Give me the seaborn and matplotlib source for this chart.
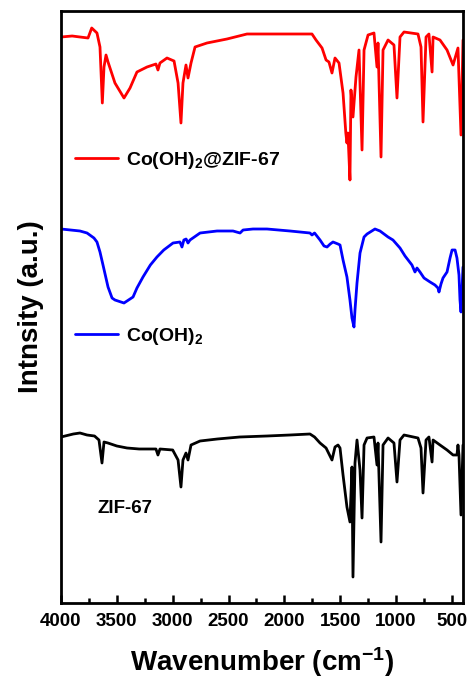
import matplotlib
matplotlib.use("Agg")
import matplotlib.pyplot as plt
import seaborn as sns
import pandas as pd
from matplotlib.ticker import MultipleLocator

# FTIR spectra, stacked (arbitrary intensity units)
wn_composite = [4000, 3900, 3830, 3758, 3725, 3678, 3651, 3630, 3615, 3597, 3579, 3517,
                3436, 3382, 3320, 3230, 3150, 3132, 3114, 3051, 2988, 2952, 2926, 2908,
                2881, 2863, 2836, 2800, 2693, 2514, 2335, 2066, 1753, 1717, 1663, 1627,
                1601, 1574, 1547, 1511, 1475, 1450, 1440, 1431, 1413, 1404, 1386, 1359,
                1332, 1305, 1287, 1251, 1198, 1171, 1162, 1135, 1117, 1072, 1019, 992,
                965, 929, 804, 777, 759, 732, 706, 678, 669, 607, 544, 490, 446, 419, 401]
int_composite = [566, 567, 566, 565, 575, 570, 556, 500, 536, 548, 541, 520,
                 505, 515, 531, 536, 539, 533, 540, 545, 542, 520, 480, 520,
                 538, 525, 540, 556, 560, 564, 569, 569, 569, 563, 555, 543,
                 541, 530, 545, 540, 510, 470, 460, 470, 423, 513, 486, 526,
                 553, 453, 553, 568, 570, 536, 560, 446, 553, 563, 558, 505,
                 566, 571, 569, 556, 481, 566, 569, 531, 566, 563, 553, 538, 555, 468, 563]

wn_hydroxide = [4000, 3830, 3767, 3705, 3678, 3651, 3624, 3579, 3543, 3517, 3490, 3436,
                3409, 3355, 3320, 3266, 3200, 3141, 3080, 2997, 2935, 2917, 2900, 2880,
                2863, 2845, 2755, 2603, 2460, 2397, 2370, 2281, 2156, 1950, 1771, 1753,
                1730, 1681, 1645, 1618, 1590, 1565, 1520, 1502, 1475, 1440, 1413, 1395,
                1377, 1368, 1350, 1323, 1287, 1260, 1189, 1144, 1072, 1028, 965, 920,
                858, 831, 813, 786, 750, 696, 652, 625, 616, 598, 580, 544, 517, 499,
                472, 455, 437, 428, 419, 410, 401]
int_hydroxide = [374, 372, 370, 365, 361, 351, 338, 316, 305, 303, 302, 300,
                 302, 306, 315, 326, 338, 346, 353, 360, 361, 356, 363, 364,
                 360, 363, 370, 372, 372, 370, 373, 374, 374, 372, 370, 368,
                 370, 363, 357, 356, 359, 361, 359, 358, 343, 326, 303, 285,
                 276, 293, 320, 350, 366, 369, 374, 372, 366, 363, 355, 347,
                 338, 331, 335, 331, 325, 321, 318, 315, 311, 319, 325, 331, 345, 353,
                 353, 345, 328, 303, 291, 313, 336]

wn_zif = [4000, 3890, 3830, 3767, 3700, 3660, 3633, 3615, 3580, 3500, 3409, 3300,
          3150, 3132, 3114, 3000, 2952, 2926, 2908, 2881, 2863, 2836, 2755, 2600,
          2400, 2156, 1950, 1771, 1730, 1681, 1627, 1574, 1547, 1520, 1502, 1475,
          1440, 1413, 1395, 1386, 1368, 1350, 1323, 1305, 1287, 1260, 1198, 1171,
          1162, 1135, 1117, 1072, 1019, 992, 965, 929, 804, 777, 759, 732, 706,
          678, 669, 607, 544, 490, 455, 446, 437, 419, 401]
int_zif = [166, 169, 170, 168, 167, 163, 140, 161, 160, 157, 155, 154,
           154, 148, 154, 153, 143, 116, 143, 150, 143, 158, 162, 164,
           166, 167, 168, 169, 166, 160, 155, 143, 156, 158, 155, 128,
           96, 81, 136, 26, 140, 163, 133, 85, 158, 165, 166, 138,
           160, 61, 158, 165, 160, 121, 163, 168, 165, 155, 110, 163, 166,
           141, 163, 158, 153, 148, 148, 158, 148, 88, 158]

label_composite = "Co(OH)$_2$@ZIF-67"
label_hydroxide = "Co(OH)$_2$"
label_zif = "ZIF-67"
x_ticks = [4000, 3500, 3000, 2500, 2000, 1500, 1000, 500]

sns.set_style("ticks")
plt.rcParams["font.family"] = ["Liberation Sans", "DejaVu Sans"]
plt.rcParams["font.weight"] = "bold"
plt.rcParams["mathtext.fontset"] = "custom"
plt.rcParams["mathtext.rm"] = "Liberation Sans:bold"
plt.rcParams["mathtext.default"] = "rm"
plt.rcParams["text.color"] = "black"
plt.rcParams["axes.labelcolor"] = "black"
plt.rcParams["xtick.color"] = "black"
plt.rcParams["ytick.color"] = "black"

fig = plt.figure(figsize=(4.73, 6.84), dpi=100)
ax = fig.add_axes([61 / 473, 81 / 684, 402 / 473, 592 / 684])

df_c = pd.DataFrame({"wavenumber": wn_composite, "intensity": int_composite})
df_h = pd.DataFrame({"wavenumber": wn_hydroxide, "intensity": int_hydroxide})
df_z = pd.DataFrame({"wavenumber": wn_zif, "intensity": int_zif})

sns.lineplot(data=df_c, x="wavenumber", y="intensity", color="#ff0000",
             linewidth=2.0, ax=ax, errorbar=None, legend=False)
sns.lineplot(data=df_h, x="wavenumber", y="intensity", color="#0000ff",
             linewidth=2.0, ax=ax, errorbar=None, legend=False)
sns.lineplot(data=df_z, x="wavenumber", y="intensity", color="#000000",
             linewidth=2.0, ax=ax, errorbar=None, legend=False)

line_c, line_h, line_z = ax.lines[:3]

ax.set_xlim(4000, 401)
ax.set_ylim(0, 592)
ax.set_yticks([])
ax.xaxis.set_major_locator(MultipleLocator(500))
ax.xaxis.set_minor_locator(MultipleLocator(250))
ax.set_xticks(x_ticks)
ax.set_xticklabels([str(t) for t in x_ticks])
ax.tick_params(axis="x", which="major", direction="in", length=6, width=1.8,
               labelsize=13.5, pad=7)
ax.tick_params(axis="x", which="minor", direction="in", length=3.5, width=1.8)
ax.tick_params(axis="x", top=False, which="both")
for sp in ax.spines.values():
    sp.set_visible(True)
    sp.set_linewidth(2.0)
    sp.set_color("black")

ax.set_xlabel("Wavenumber (cm$^{-1}$)", fontsize=20, fontweight="bold", labelpad=11)
ax.set_ylabel("Intnsity (a.u.)", fontsize=20, fontweight="bold", labelpad=12)

leg_kw = dict(frameon=False, loc="center left", borderpad=0, borderaxespad=0,
              handlelength=2.2, handletextpad=0.4,
              prop={"size": 14, "weight": "bold"})
leg1 = ax.legend([line_c], [label_composite], bbox_to_anchor=(0.035, 0.748), **leg_kw)
ax.add_artist(leg1)
ax.legend([line_h], [label_hydroxide], bbox_to_anchor=(0.035, 0.451), **leg_kw)
ax.text(0.09, 0.160, label_zif, transform=ax.transAxes, fontsize=13.5,
        fontweight="bold", va="center", ha="left")

fig.savefig("out.png", dpi=100)
